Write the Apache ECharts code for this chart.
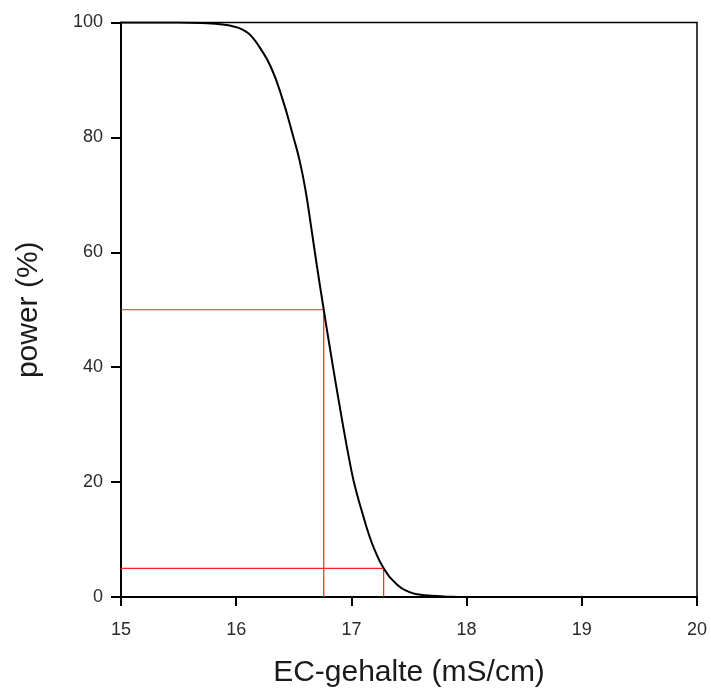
<!DOCTYPE html>
<html><head><meta charset="utf-8">
<script src="https://cdn.jsdelivr.net/npm/echarts@6/dist/echarts.min.js"></script>
<style>html,body{margin:0;padding:0;background:#fff}#c{width:711px;height:693px}</style>
</head><body><div id="c"></div>
<script>
const ecX = [15, 15.5, 15.7, 15.9, 16.0, 16.05, 16.1, 16.15, 16.2, 16.3, 16.4, 16.5, 16.55, 16.6, 16.65, 16.7, 16.76, 16.8, 16.9, 17.0, 17.05, 17.1, 17.15, 17.2, 17.28, 17.4, 17.5, 17.6, 17.7, 17.8, 18, 19, 20];
const powerY = [100, 100, 99.9, 99.6, 99.2, 98.8, 98.2, 97.2, 95.8, 92.3, 86.8, 79.8, 76, 71, 64.5, 57.7, 50, 45, 33, 22, 17.8, 14.3, 11.0, 8.3, 5, 2.1, 0.9, 0.4, 0.2, 0.1, 0, 0, 0];
const refPower = [50, 5];
const refEC = [16.76, 17.28];
const xTicks = [15, 16, 17, 18, 19, 20];
const yTicks = [0, 20, 40, 60, 80, 100];

const curve = ecX.map((x, i) => [x, powerY[i]]);
const refSeries = refPower.map((p, i) => ({
  type: 'line', symbol: 'none', silent: true,
  lineStyle: { color: '#ff2020', width: 1.2 },
  data: [[xTicks[0], p], [refEC[i], p], [refEC[i], yTicks[0]]]
}));

const chart = echarts.init(document.getElementById('c'));
chart.setOption({
  animation: false,
  grid: { left: 121, right: 14, top: 22.5, bottom: 94, show: true, borderColor: '#000', borderWidth: 1.5 },
  xAxis: {
    type: 'value', min: 15, max: 20, interval: 1,
    name: 'EC-gehalte (mS/cm)', nameLocation: 'middle', nameGap: 61,
    nameTextStyle: { fontFamily: 'Liberation Sans', fontSize: 30, color: '#1a1a1a' },
    axisLine: { lineStyle: { color: '#000', width: 2 } },
    axisTick: { length: 9, lineStyle: { color: '#000', width: 2 } },
    axisLabel: { margin: 24, fontFamily: 'Liberation Sans', fontSize: 18, color: '#2a2a2a' },
    splitLine: { show: false }
  },
  yAxis: {
    type: 'value', min: 0, max: 100, interval: 20,
    name: 'power (%)', nameLocation: 'middle', nameGap: 77,
    nameTextStyle: { fontFamily: 'Liberation Sans', fontSize: 30, color: '#1a1a1a' },
    axisLine: { show: true, lineStyle: { color: '#000', width: 2 } },
    axisTick: { show: true, length: 10, lineStyle: { color: '#000', width: 2 } },
    axisLabel: { margin: 18, fontFamily: 'Liberation Sans', fontSize: 18, color: '#2a2a2a' },
    splitLine: { show: false }
  },
  series: [
    ...refSeries,
    { type: 'line', symbol: 'none', smooth: 0.5, data: curve, lineStyle: { color: '#000', width: 2 } }
  ]
});
</script></body></html>
